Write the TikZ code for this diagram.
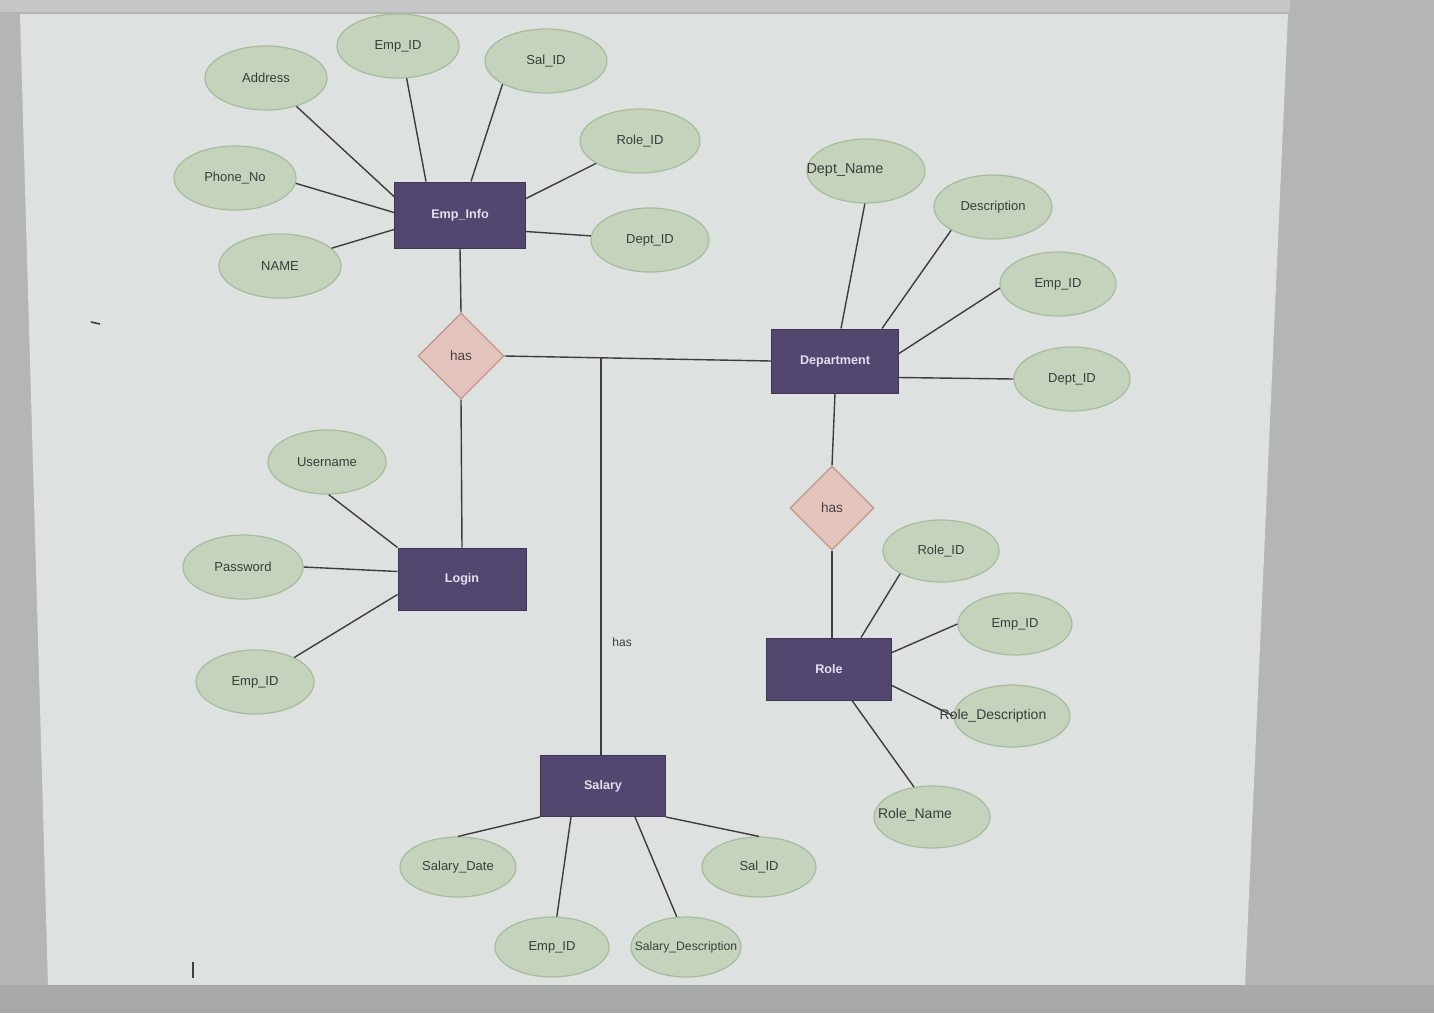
\documentclass[tikz,border=0pt]{standalone}
\usepackage{fontspec}
\setmainfont{Liberation Sans}
\usepackage{xcolor}
\usetikzlibrary{shapes.geometric,calc}

\definecolor{outerbg}{HTML}{B3B6B5}
\definecolor{rulerbg}{HTML}{C4C7C6}
\definecolor{barbg}{HTML}{A7AAA9}
\definecolor{pagebg}{HTML}{DDE1E0}
\definecolor{attrfill}{HTML}{C5D3BD}
\definecolor{attrline}{HTML}{A8BB9C}
\definecolor{attrtext}{HTML}{3A3D3A}
\definecolor{entfill}{HTML}{54476F}
\definecolor{entline}{HTML}{3E3456}
\definecolor{enttext}{HTML}{E4DEEE}
\definecolor{relfill}{HTML}{E4C5BD}
\definecolor{relline}{HTML}{C4948A}
\definecolor{reltext}{HTML}{4A4242}
\definecolor{linecol}{HTML}{3C3E3E}

\begin{document}
\begin{tikzpicture}[
    x=0.5pt, y=-0.5pt,
    attr/.style={ellipse, draw=attrline, fill=attrfill, line width=0.6pt,
      minimum width=59pt, minimum height=32pt, inner sep=0pt,
      text=attrtext, font=\fontsize{6.5}{7}\selectfont},
    ent/.style={rectangle, draw=entline, fill=entfill, line width=0.5pt,
      minimum width=63pt, minimum height=31pt, inner sep=0pt,
      text=enttext, font=\fontsize{6.3}{7}\selectfont\bfseries},
    rel/.style={diamond, draw=relline, fill=relfill, line width=0.6pt,
      minimum width=43pt, minimum height=43pt, inner sep=0pt,
      text=reltext, font=\fontsize{6.8}{7}\selectfont},
    conn/.style={draw=linecol, line width=0.7pt},
    lbl/.style={text=attrtext, inner sep=0pt, font=\fontsize{7}{8}\selectfont}
  ]
    % screen and page
    \useasboundingbox (0,0) rectangle (1434,1013);
    \fill[outerbg] (0,0) rectangle (1434,1013);
    \fill[rulerbg] (0,0) rectangle (1290,12);
    \fill[pagebg] (20,14) -- (1288,14) -- (1245,985) -- (48,985) -- cycle;
    \fill[barbg] (0,985) rectangle (1434,1013);
    \draw[linecol, line width=0.9pt] (193,962) -- (193,978);
    \draw[linecol, line width=0.8pt] (91,322) -- (100,324);

    % entities
    \node[ent, minimum width=65.5pt, minimum height=33pt] (empinfo) at (460,215) {Emp\_Info};
    \node[ent, minimum width=63.5pt, minimum height=32pt] (dept) at (835,361) {Department};
    \node[ent, minimum width=64pt] (login) at (462,579) {Login};
    \node[ent, minimum width=62.5pt] (role) at (829,669) {Role};
    \node[ent, minimum width=62.5pt, minimum height=30.5pt] (salary) at (603,786) {Salary};

    % relationships
    \node[rel] (has1) at (461,356) {has};
    \node[rel, minimum width=42pt, minimum height=42pt] (has2) at (832,508) {has};

    % Emp_Info attributes
    \node[attr, minimum width=61pt] (ei_emp) at (398,46) {Emp\_ID};
    \node[attr, minimum width=61pt] (ei_sal) at (546,61) {Sal\_ID};
    \node[attr, minimum width=61pt] (ei_addr) at (266,78) {Address};
    \node[attr, minimum width=61pt] (ei_phone) at (235,178) {Phone\_No};
    \node[attr, minimum width=61pt] (ei_name) at (280,266) {NAME};
    \node[attr, minimum width=60pt] (ei_role) at (640,141) {Role\_ID};
    \node[attr] (ei_dept) at (650,240) {Dept\_ID};

    % Department attributes
    \node[attr, label={[lbl, font=\fontsize{7.2}{8}\selectfont, xshift=-10.5pt, yshift=0.5pt]center:Dept\_Name}] (d_name) at (866,171) {};
    \node[attr] (d_desc) at (993,207) {Description};
    \node[attr, minimum width=58pt] (d_emp) at (1058,284) {Emp\_ID};
    \node[attr, minimum width=58pt] (d_id) at (1072,379) {Dept\_ID};

    % Login attributes
    \node[attr] (l_user) at (327,462) {Username};
    \node[attr, minimum width=60pt] (l_pass) at (243,567) {Password};
    \node[attr] (l_emp) at (255,682) {Emp\_ID};

    % Role attributes
    \node[attr, minimum width=58pt, minimum height=31pt] (r_id) at (941,551) {Role\_ID};
    \node[attr, minimum width=57pt, minimum height=31pt] (r_emp) at (1015,624) {Emp\_ID};
    \node[attr, minimum width=58pt, minimum height=31pt,
      label={[lbl, xshift=-9.5pt]center:Role\_Description}] (r_desc) at (1012,716) {};
    \node[attr, minimum width=58pt, minimum height=31pt,
      label={[lbl, xshift=-8.5pt, yshift=1pt]center:Role\_Name}] (r_name) at (932,817) {};

    % Salary attributes
    \node[attr, minimum width=58pt, minimum height=30pt] (s_date) at (458,867) {Salary\_Date};
    \node[attr, minimum width=57pt, minimum height=30pt] (s_emp) at (552,947) {Emp\_ID};
    \node[attr, minimum width=55pt, minimum height=30pt,
      label={[lbl, font=\fontsize{6.1}{7}\selectfont]center:Salary\_Description}] (s_desc) at (686,947) {};
    \node[attr, minimum width=57pt, minimum height=30pt] (s_id) at (759,867) {Sal\_ID};

    % relationship lines
    \draw[conn] (empinfo.south) -- (has1.north);
    \draw[conn] (has1.south) -- (login.north);
    \draw[conn] (has1.east) -- (dept.west);
    \coordinate (jn) at ($(has1.east)!0.362!(dept.west)$);
    \draw[conn] (jn) -- (jn|-salary.north);
    \node[lbl, font=\fontsize{6}{7}\selectfont, anchor=west] (hasl) at (612,642) {has};
    \draw[conn] (dept.south) -- (has2.north);
    \draw[conn] (has2.south) -- (role.north-|has2.south);

    % Emp_Info links
    \draw[conn] (ei_addr.-43) -- ($(empinfo.north west)+(0,15)$);
    \draw[conn] (ei_emp.-75) -- ($(empinfo.north west)+(32,0)$);
    \draw[conn] (ei_sal.208) -- ($(empinfo.north west)+(77,0)$);
    \draw[conn] (ei_role.207) -- ($(empinfo.north east)+(0,17)$);
    \draw[conn] (ei_dept.176) -- ($(empinfo.north east)+(0,50)$);
    \draw[conn] (ei_phone.-5) -- ($(empinfo.north west)+(0,31)$);
    \draw[conn] (ei_name.19) -- ($(empinfo.north west)+(0,48)$);

    % Department links
    \draw[conn] (d_name.-92) -- ($(dept.north west)+(70,0)$);
    \draw[conn] (d_desc.209) -- ($(dept.north west)+(111,0)$);
    \draw[conn] (d_emp.184) -- ($(dept.north east)+(0,25)$);
    \draw[conn] (d_id.180) -- ($(dept.north east)+(0,49)$);

    % Login links
    \draw[conn] (l_user.-87) -- (login.north west);
    \draw[conn] (l_pass.0) -- ($(login.north west)+(0,24)$);
    \draw[conn] (l_emp.32) -- ($(login.north west)+(0,47)$);

    % Role links
    \draw[conn] (r_id.209) -- ($(role.north west)+(95,0)$);
    \draw[conn] (r_emp.180) -- ($(role.north east)+(0,15)$);
    \draw[conn] (r_desc.180) -- ($(role.north east)+(0,48)$);
    \draw[conn] (r_name.121) -- ($(role.south west)+(86,0)$);

    % Salary links
    \draw[conn] (s_date.90) -- (salary.south west);
    \draw[conn] (s_emp.81) -- ($(salary.south west)+(31,0)$);
    \draw[conn] (s_desc.107) -- ($(salary.south west)+(95,0)$);
    \draw[conn] (s_id.90) -- (salary.south east);
  \end{tikzpicture}
\end{document}
